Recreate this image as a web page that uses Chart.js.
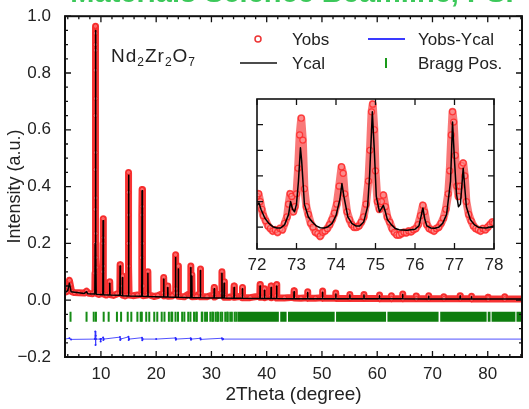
<!DOCTYPE html>
<html>
<head>
<meta charset="utf-8">
<script src="https://cdn.jsdelivr.net/npm/chart.js@4.4.1/dist/chart.umd.min.js"></script>
<style>
  html, body { margin: 0; padding: 0; background: #fff; }
  #wrap { position: relative; width: 529px; height: 409px; overflow: hidden; }
  #wrap canvas { position: absolute; left: 0; top: 0; }
</style>
</head>
<body>
<div id="wrap">
  <canvas id="main" width="529" height="409"></canvas>
  <canvas id="inset" width="529" height="409"></canvas>
</div>
<script>
// ---- data ----
const xTicks = [10, 20, 30, 40, 50, 60, 70, 80];
const yTicks = [-0.2, 0, 0.2, 0.4, 0.6, 0.8, 1.0];
const insetXTicks = [72, 73, 74, 75, 76, 77, 78];
const insetYTicks = [1, 2, 3, 4, 5];

// observed pattern (2theta, intensity)
const yObs = [
  [3.5,0.028],[3.8,0.03],[4.1,0.045],[4.3,0.07],[4.45,0.055],[4.7,0.03],[5.2,0.027],[6.0,0.026],
  [7.0,0.025],[7.4,0.032],[7.8,0.024],[8.5,0.023],[8.9,0.03],
  [8.94,0.095],[8.96,0.2],[8.97,0.32],[8.98,0.46],[8.99,0.65],[9.0,0.81],[9.01,0.9],[9.02,0.965],
  [9.03,0.94],[9.04,0.88],[9.05,0.71],[9.06,0.52],[9.07,0.36],[9.08,0.235],[9.09,0.15],[9.11,0.115],[9.14,0.025],
  [9.6,0.02],[10.3,0.025],[10.36,0.1],[10.38,0.2],[10.4,0.287],[10.42,0.22],[10.44,0.12],[10.48,0.022],
  [11.0,0.018],[11.55,0.025],[11.6,0.065],[11.65,0.02],[12.3,0.017],[12.9,0.022],[13.42,0.025],
  [13.47,0.125],[13.52,0.05],[13.86,0.02],[13.9,0.085],[13.95,0.018],[14.4,0.015],
  [14.92,0.02],[14.95,0.2],[14.98,0.38],[15.0,0.45],[15.02,0.3],[15.05,0.12],[15.1,0.018],
  [15.8,0.016],[16.6,0.018],[17.34,0.02],[17.38,0.15],[17.42,0.3],[17.45,0.39],[17.48,0.33],
  [17.52,0.2],[17.58,0.05],[17.62,0.016],[18.2,0.017],[18.45,0.025],[18.5,0.1],[18.55,0.02],
  [19.6,0.013],[20.3,0.016],[21.3,0.025],[21.36,0.08],[21.42,0.015],[22.05,0.018],[22.1,0.05],
  [22.15,0.014],[22.9,0.015],[23.45,0.025],[23.5,0.16],[23.55,0.04],[23.95,0.025],[24.0,0.12],
  [24.05,0.014],[25.1,0.012],[26.2,0.025],[26.25,0.12],[26.3,0.02],[26.4,0.025],[26.45,0.09],
  [26.5,0.012],[27.3,0.013],[27.95,0.025],[28.0,0.11],[28.05,0.012],[29.2,0.012],[30.45,0.02],
  [30.5,0.045],[30.55,0.011],[31.85,0.025],[31.9,0.1],[31.95,0.025],[32.25,0.02],[32.3,0.065],
  [32.35,0.01],[33.2,0.01],[34.05,0.015],[34.1,0.05],[34.15,0.01],[35.55,0.015],[35.6,0.045],
  [35.65,0.009],[37.0,0.009],[38.75,0.015],[38.8,0.055],[38.85,0.01],[39.55,0.012],[39.6,0.04],
  [39.65,0.009],[40.75,0.015],[40.8,0.05],[40.85,0.009],[41.75,0.015],[41.8,0.055],[41.85,0.008],
  [43.2,0.008],[44.9,0.01],[44.95,0.033],[45.0,0.008],[46.2,0.007],[47.35,0.009],[47.4,0.03],
  [47.45,0.007],[48.8,0.007],[50.05,0.009],[50.1,0.032],[50.15,0.007],[52.45,0.008],[52.5,0.025],
  [52.55,0.006],[55.0,0.006],[55.05,0.02],[55.1,0.006],[57.55,0.006],[57.6,0.02],[57.65,0.006],
  [60.35,0.006],[60.4,0.018],[60.45,0.005],[62.5,0.006],[62.55,0.016],[62.6,0.005],[64.55,0.006],
  [64.6,0.022],[64.65,0.005],[67.0,0.005],[67.05,0.015],[67.1,0.005],[69.25,0.005],[69.3,0.016],
  [69.35,0.005],[72.0,0.005],[72.05,0.012],[72.1,0.005],[74.95,0.005],[75.0,0.016],[75.05,0.005],
  [77.0,0.005],[77.05,0.014],[77.1,0.004],[80.0,0.004],[80.05,0.01],[80.1,0.004],[83.0,0.004],
  [83.05,0.012],[83.1,0.004],[86.2,0.004]
];

// calculated pattern
const yCal = [
  [3.5,0.027],[4.0,0.034],[4.3,0.06],[4.6,0.03],[7.0,0.024],[7.4,0.03],[7.6,0.023],[8.9,0.022],
  [8.96,0.2],[9.02,0.95],[9.08,0.2],[9.14,0.021],[10.35,0.019],[10.4,0.28],[10.46,0.019],
  [11.55,0.018],[11.6,0.06],[11.65,0.018],[13.42,0.017],[13.47,0.12],[13.52,0.017],[13.86,0.016],
  [13.9,0.08],[13.94,0.016],[14.94,0.015],[15.0,0.44],[15.06,0.015],[17.39,0.014],[17.45,0.385],
  [17.51,0.014],[18.46,0.013],[18.5,0.095],[18.54,0.013],[21.32,0.011],[21.36,0.075],[21.4,0.011],
  [22.06,0.011],[22.1,0.045],[22.14,0.011],[23.46,0.01],[23.5,0.15],[23.54,0.01],[23.96,0.01],
  [24.0,0.11],[24.04,0.01],[26.21,0.009],[26.25,0.115],[26.29,0.009],[26.41,0.009],[26.45,0.085],
  [26.49,0.009],[27.96,0.009],[28.0,0.105],[28.04,0.009],[30.46,0.008],[30.5,0.04],[30.54,0.008],
  [31.86,0.008],[31.9,0.095],[31.94,0.008],[32.26,0.008],[32.3,0.06],[32.34,0.008],[34.06,0.007],
  [34.1,0.045],[34.14,0.007],[35.56,0.007],[35.6,0.04],[35.64,0.007],[38.76,0.006],[38.8,0.05],
  [38.84,0.006],[39.56,0.006],[39.6,0.035],[39.64,0.006],[40.76,0.006],[40.8,0.045],[40.84,0.006],
  [41.76,0.006],[41.8,0.05],[41.84,0.006],[44.91,0.005],[44.95,0.03],[44.99,0.005],[47.36,0.005],
  [47.4,0.027],[47.44,0.005],[50.06,0.005],[50.1,0.028],[50.14,0.005],[52.46,0.005],[52.5,0.022],
  [52.54,0.005],[55.01,0.005],[55.05,0.018],[55.09,0.005],[57.56,0.005],[57.6,0.018],[57.64,0.005],
  [60.36,0.005],[60.4,0.016],[60.44,0.005],[64.56,0.005],[64.6,0.02],[64.64,0.005],[69.26,0.004],
  [69.3,0.014],[69.34,0.004],[74.96,0.004],[75.0,0.015],[75.04,0.004],[77.01,0.004],[77.05,0.012],
  [77.09,0.004],[86.2,0.004]
];

// difference curve
const yDiff = [
  [3.5,-0.137],[4.3,-0.134],[4.6,-0.138],[8.9,-0.137],[8.98,-0.11],[9.02,-0.158],[9.06,-0.125],
  [9.1,-0.137],[9.9,-0.137],[9.95,-0.145],[10.0,-0.137],[10.4,-0.131],[10.44,-0.14],[10.5,-0.137],
  [13.45,-0.13],[13.5,-0.14],[13.55,-0.137],[14.98,-0.129],[15.03,-0.14],[15.1,-0.137],
  [17.43,-0.132],[17.48,-0.141],[17.55,-0.137],[20.0,-0.137],[23.5,-0.133],[23.55,-0.139],
  [23.6,-0.137],[26.25,-0.134],[26.3,-0.139],[26.35,-0.137],[28.0,-0.134],[28.05,-0.138],
  [31.9,-0.134],[32.0,-0.138],[32.1,-0.137],[86.2,-0.137]
];

// Bragg reflection positions, single marks and merged runs
const braggPos = [
  4.5, 7.4, 8.7, 9.1, 10.5, 11.4, 12.9, 13.65, 14.85, 15.5, 16.6, 17.2, 17.4, 18.2, 18.75,
  19.65, 20.2, 21.0, 21.5, 22.3, 22.75, 22.9, 23.5, 23.95, 24.7, 25.1, 25.8, 26.2, 26.85,
  27.25, 27.35, 28.25, 28.35, 28.85, 29.2, 29.8, 30.15, 30.3, 30.75, 31.05, 31.2, 31.65,
  31.95, 32.5, 32.85, 32.95, 33.4, 33.7, 34.2, 34.5
];
const braggRuns = [
  [34.7,42.2],[42.45,43.6],[43.85,52.3],[52.55,61.6],[61.85,71.1],[71.4,79.8],
  [80.0,80.5],[80.7,85.0],[85.2,86.2]
];
const BRAGG_Y = -0.0585;

// inset 72-78 deg
const insetCal = [
  [72.0,1.85],[72.05,1.95],[72.1,1.7],[72.2,1.35],[72.3,1.15],[72.4,1.02],[72.5,0.97],[72.6,0.97],
  [72.7,1.1],[72.8,1.5],[72.85,2.0],[72.9,1.7],[72.95,1.6],[73.0,1.9],[73.05,2.8],[73.1,4.1],
  [73.13,3.6],[73.2,1.9],[73.3,1.4],[73.4,1.2],[73.5,1.05],[73.6,0.98],[73.7,0.97],[73.8,1.02],
  [73.9,1.15],[74.0,1.45],[74.1,2.1],[74.15,2.7],[74.2,2.2],[74.3,1.4],[74.4,1.15],[74.5,1.05],
  [74.6,1.05],[74.7,1.2],[74.8,1.8],[74.85,3.0],[74.92,5.5],[74.97,4.0],[75.02,2.2],[75.1,1.6],
  [75.2,1.85],[75.25,1.6],[75.3,1.3],[75.4,1.1],[75.5,0.95],[75.6,0.9],[75.8,0.88],[76.0,0.92],
  [76.1,1.05],[76.2,1.75],[76.25,1.3],[76.3,1.05],[76.4,0.97],[76.5,0.96],[76.6,1.0],[76.7,1.15],
  [76.8,1.5],[76.9,2.8],[76.95,5.1],[77.0,3.6],[77.05,2.3],[77.1,1.8],[77.15,1.9],[77.22,3.3],
  [77.3,1.8],[77.4,1.3],[77.5,1.1],[77.6,1.0],[77.7,0.98],[77.8,0.97],[77.9,1.0],[78.0,1.05]
];
const insetObs = [
  [72.0,2.2],[72.04,2.3],[72.08,2.0],[72.12,1.7],[72.16,1.45],[72.22,1.25],[72.28,1.05],[72.34,0.95],
  [72.4,0.85],[72.46,0.9],[72.52,0.8],[72.58,0.95],[72.64,0.9],[72.7,1.15],[72.76,1.4],[72.8,1.9],
  [72.84,2.3],[72.88,2.2],[72.92,1.6],[72.96,1.8],[73.0,2.3],[73.04,3.3],[73.08,4.6],[73.12,5.25],
  [73.16,4.4],[73.2,2.5],[73.25,1.8],[73.3,1.5],[73.36,1.15],[73.42,1.0],[73.48,0.8],[73.54,0.75],
  [73.6,0.65],[73.66,0.8],[73.72,0.85],[73.78,0.95],[73.84,1.1],[73.9,1.3],[73.96,1.55],[74.02,1.9],
  [74.08,2.6],[74.14,3.35],[74.18,3.1],[74.22,2.3],[74.28,1.6],[74.34,1.3],[74.4,1.1],[74.46,1.0],
  [74.52,1.0],[74.58,1.05],[74.64,1.2],[74.7,1.4],[74.76,1.9],[74.82,2.8],[74.86,4.0],[74.9,5.5],
  [74.93,5.8],[74.97,4.8],[75.0,3.2],[75.05,2.0],[75.1,1.7],[75.15,2.0],[75.2,2.25],[75.25,1.8],
  [75.3,1.4],[75.36,1.2],[75.42,0.95],[75.48,0.8],[75.54,0.7],[75.6,0.7],[75.66,0.75],[75.72,0.8],
  [75.78,0.78],[75.84,0.85],[75.9,0.82],[75.96,0.9],[76.02,0.95],[76.08,1.1],[76.14,1.45],[76.2,1.85],
  [76.24,1.6],[76.3,1.1],[76.36,0.95],[76.42,0.9],[76.48,0.85],[76.54,0.95],[76.6,1.0],[76.66,1.15],
  [76.72,1.35],[76.78,1.7],[76.84,2.3],[76.88,3.2],[76.92,4.6],[76.95,5.5],[76.98,5.1],[77.02,3.8],
  [77.06,2.6],[77.1,2.2],[77.14,2.6],[77.18,3.4],[77.22,3.5],[77.26,3.0],[77.3,2.0],[77.36,1.5],
  [77.42,1.25],[77.48,1.05],[77.54,0.95],[77.6,0.9],[77.66,0.85],[77.72,0.95],[77.78,0.9],[77.84,1.0],
  [77.9,1.1],[77.96,1.2],[78.0,1.15]
];

// ---- helpers ----
const FONT = '"Liberation Sans", Arial, Helvetica, sans-serif';
const TXT = '#222';
const pts = arr => arr.map(([x, y]) => ({ x, y }));

// inward ticks on all four sides + frame
const frameTicks = {
  id: 'frameTicks',
  afterDatasetsDraw(chart, args, o) {
    const { ctx, chartArea: a, scales: { x, y } } = chart;
    const xMinor = [], yMinor = [];
    if (o.xStep) for (let v = Math.ceil(x.min / o.xStep) * o.xStep; v <= x.max + 1e-9; v += o.xStep) xMinor.push(v);
    if (o.yStep) for (let v = Math.ceil(y.min / o.yStep) * o.yStep; v <= y.max + 1e-9; v += o.yStep) yMinor.push(v);
    ctx.save();
    ctx.strokeStyle = '#111';
    ctx.lineWidth = o.tickWidth;
    ctx.beginPath();
    const xs = (vals, len) => vals.forEach(v => {
      const px = x.getPixelForValue(v);
      ctx.moveTo(px, a.bottom); ctx.lineTo(px, a.bottom - len);
      ctx.moveTo(px, a.top); ctx.lineTo(px, a.top + len);
    });
    const ys = (vals, len) => vals.forEach(v => {
      const py = y.getPixelForValue(v);
      ctx.moveTo(a.left, py); ctx.lineTo(a.left + len, py);
      ctx.moveTo(a.right, py); ctx.lineTo(a.right - len, py);
    });
    xs(x.ticks.map(t => t.value), o.major);
    ys(y.ticks.map(t => t.value), o.major);
    xs(xMinor, o.minor);
    ys(yMinor, o.minor);
    ctx.stroke();
    ctx.lineWidth = o.frameWidth;
    ctx.strokeRect(a.left, a.top, a.right - a.left, a.bottom - a.top);
    ctx.restore();
  }
};

// banner, compound label and legend of the main plot
const decor = {
  id: 'decor',
  afterDraw(chart) {
    const { ctx } = chart;
    ctx.save();
    ctx.fillStyle = '#3cc85a';
    ctx.font = 'bold 29px ' + FONT;
    ctx.textAlign = 'center';
    ctx.textBaseline = 'alphabetic';
    ctx.fillText('Materials Science Beamline, PSI', 292, 2);

    ctx.textAlign = 'left';
    ctx.fillStyle = TXT;
    ctx.letterSpacing = '1px';
    let cx = 111;
    [['Nd', 0], ['2', 1], ['Zr', 0], ['2', 1], ['O', 0], ['7', 1]].forEach(([s, sub]) => {
      ctx.font = (sub ? '12px ' : '19px ') + FONT;
      ctx.fillText(s, cx, sub ? 66 : 62);
      cx += ctx.measureText(s).width;
    });
    ctx.letterSpacing = '0px';

    ctx.font = '17px ' + FONT;
    ctx.fillText('Yobs', 292, 45);
    ctx.fillText('Yobs-Ycal', 418, 45);
    ctx.fillText('Ycal', 292, 69);
    ctx.fillText('Bragg Pos.', 418, 69);

    ctx.strokeStyle = 'rgba(235,30,30,0.9)';
    ctx.lineWidth = 1.5;
    ctx.beginPath(); ctx.arc(258, 39, 3, 0, Math.PI * 2); ctx.stroke();
    ctx.strokeStyle = '#3a3aff';
    ctx.lineWidth = 2;
    ctx.beginPath(); ctx.moveTo(368, 39); ctx.lineTo(405, 39); ctx.stroke();
    ctx.strokeStyle = '#111';
    ctx.lineWidth = 1.5;
    ctx.beginPath(); ctx.moveTo(240, 63); ctx.lineTo(277, 63); ctx.stroke();
    ctx.strokeStyle = '#1a9a1a';
    ctx.lineWidth = 2;
    ctx.beginPath(); ctx.moveTo(386, 58); ctx.lineTo(386, 68); ctx.stroke();
    ctx.restore();
  }
};

const whiteArea = {
  id: 'whiteArea',
  beforeDatasetsDraw(chart) {
    const { ctx, chartArea: a } = chart;
    ctx.save();
    ctx.fillStyle = '#fff';
    ctx.fillRect(a.left, a.top, a.right - a.left, a.bottom - a.top);
    ctx.restore();
  }
};

const fmtY = v => {
  if (Math.abs(v) < 1e-9) return '0.0';
  return v < 0 ? '\u2212' + Math.abs(v).toFixed(1) : v.toFixed(1);
};

const braggRunData = [];
braggRuns.forEach(([a, b]) => {
  braggRunData.push({ x: a, y: BRAGG_Y }, { x: b, y: BRAGG_Y }, { x: b, y: null });
});

// ---- main chart ----
new Chart(document.getElementById('main'), {
  type: 'scatter',
  data: {
    datasets: [
      { label: 'Ycal', data: pts(yCal), showLine: true, borderColor: '#000', borderWidth: 1.5,
        pointRadius: 0, borderJoinStyle: 'round' },
      { label: 'Yobs-Ycal', data: pts(yDiff), showLine: true, borderColor: 'rgba(50,50,255,0.85)',
        borderWidth: 1, pointRadius: 1, pointBackgroundColor: '#2828ff', pointBorderWidth: 0 },
      { label: 'Bragg Pos.', data: braggPos.map(x => ({ x, y: BRAGG_Y })), pointStyle: 'line',
        rotation: 90, pointRadius: 5, pointBorderWidth: 2, pointBorderColor: '#168c16' },
      { label: 'Bragg runs', data: braggRunData, showLine: true, spanGaps: false, borderWidth: 10,
        borderCapStyle: 'butt', borderColor: '#0e7d0e', pointRadius: 0 },
      { label: 'Yobs', data: pts(yObs), showLine: true, borderColor: 'rgba(245,0,0,0.8)', borderWidth: 7,
        borderJoinStyle: 'round', pointRadius: 2.2, pointBorderWidth: 1,
        pointBorderColor: 'rgba(245,30,30,0.85)', pointBackgroundColor: 'rgba(255,180,180,0.4)' }
    ]
  },
  options: {
    responsive: false,
    animation: false,
    events: [],
    layout: { padding: { top: 15, right: 7, left: 0, bottom: 0 } },
    plugins: {
      legend: { display: false },
      tooltip: { enabled: false },
      frameTicks: { xStep: 2, yStep: 0.05, major: 6, minor: 3, tickWidth: 1.3, frameWidth: 2 }
    },
    scales: {
      x: {
        type: 'linear', min: 3.5, max: 86.2,
        afterBuildTicks: s => { s.ticks = xTicks.map(v => ({ value: v })); },
        afterFit: s => { s.height = 52; },
        grid: { display: false }, border: { display: false },
        ticks: { autoSkip: false, maxRotation: 0, padding: -1, color: TXT, font: { family: FONT, size: 17 } },
        title: { display: true, text: '2Theta (degree)', color: TXT,
          font: { family: FONT, size: 19 }, padding: { top: 0, bottom: 3 } }
      },
      y: {
        type: 'linear', min: -0.2, max: 1.0,
        afterBuildTicks: s => { s.ticks = yTicks.map(v => ({ value: v })); },
        afterFit: s => { s.width = 65; },
        grid: { display: false }, border: { display: false },
        ticks: { padding: 6, color: TXT, font: { family: FONT, size: 17 }, callback: v => fmtY(v) },
        title: { display: true, text: 'Intensity (a.u.)', color: TXT,
          font: { family: FONT, size: 18 }, padding: { top: 4, bottom: 0 } }
      }
    }
  },
  plugins: [frameTicks, decor]
});

// ---- inset ----
new Chart(document.getElementById('inset'), {
  type: 'scatter',
  data: {
    datasets: [
      { label: 'Ycal', data: pts(insetCal), showLine: true, borderColor: '#000', borderWidth: 1.5,
        pointRadius: 0, borderJoinStyle: 'round' },
      { label: 'Yobs', data: pts(insetObs), showLine: true, borderColor: 'rgba(245,30,30,0.6)',
        borderWidth: 8, borderJoinStyle: 'round', pointRadius: 3, pointBorderWidth: 1.2,
        pointBorderColor: 'rgba(255,40,40,0.85)', pointBackgroundColor: 'rgba(255,170,170,0.4)' }
    ]
  },
  options: {
    responsive: false,
    animation: false,
    events: [],
    layout: { padding: { left: 257, top: 99, right: 35, bottom: 128 } },
    plugins: {
      legend: { display: false },
      tooltip: { enabled: false },
      frameTicks: { major: 6, minor: 0, tickWidth: 1.3, frameWidth: 1.6 }
    },
    scales: {
      x: {
        type: 'linear', min: 72, max: 78,
        afterBuildTicks: s => { s.ticks = insetXTicks.map(v => ({ value: v })); },
        afterFit: s => { s.height = 32; },
        grid: { display: false }, border: { display: false },
        ticks: { autoSkip: false, maxRotation: 0, padding: -2, color: TXT, font: { family: FONT, size: 17 } }
      },
      y: {
        type: 'linear', min: 0.15, max: 6,
        afterBuildTicks: s => { s.ticks = insetYTicks.map(v => ({ value: v })); },
        afterFit: s => { s.width = 0; },
        grid: { display: false }, border: { display: false },
        ticks: { display: false }
      }
    }
  },
  plugins: [whiteArea, frameTicks]
});
</script>
</body>
</html>
